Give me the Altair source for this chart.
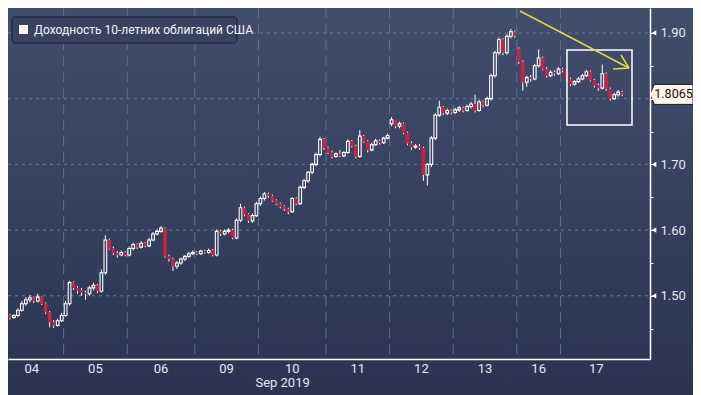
import altair as alt
import pandas as pd

# ---------------- data ----------------
days = ["04", "05", "06", "09", "10", "11", "12", "13", "16", "17"]
day_slots = [16, 16, 17, 16, 17, 16, 16, 16, 11, 18]   # bar slots per trading day
first_open = 1.462
day_opens = {"12": 1.762, "16": 1.876}                  # opening gaps

c04 = [1.478, 1.470, 1.467, 1.470, 1.478, 1.488, 1.494, 1.497, 1.492, 1.498,
       1.488, 1.475, 1.460, 1.455, 1.462, 1.470]
h04 = [1.481, 1.480, 1.472, 1.472, 1.481, 1.492, 1.498, 1.501, 1.499, 1.503,
       1.499, 1.490, 1.477, 1.463, 1.465, 1.474]
l04 = [1.455, 1.468, 1.464, 1.465, 1.468, 1.476, 1.485, 1.490, 1.489, 1.490,
       1.486, 1.472, 1.452, 1.451, 1.453, 1.460]

c05 = [1.488, 1.520, 1.512, 1.508, 1.505, 1.503, 1.512, 1.516, 1.507, 1.535,
       1.585, 1.572, 1.565, 1.562, 1.566, 1.562]
h05 = [1.492, 1.523, 1.522, 1.515, 1.512, 1.508, 1.515, 1.520, 1.518, 1.540,
       1.592, 1.587, 1.575, 1.568, 1.569, 1.568]
l05 = [1.468, 1.485, 1.509, 1.503, 1.500, 1.494, 1.500, 1.508, 1.504, 1.505,
       1.532, 1.570, 1.562, 1.558, 1.560, 1.560]

c06 = [1.572, 1.578, 1.574, 1.580, 1.576, 1.585, 1.594, 1.598, 1.603, 1.560,
       1.556, 1.545, 1.550, 1.556, 1.560, 1.564, 1.566]
h06 = [1.575, 1.581, 1.580, 1.583, 1.582, 1.588, 1.597, 1.601, 1.606, 1.604,
       1.563, 1.558, 1.553, 1.558, 1.562, 1.567, 1.569]
l06 = [1.560, 1.569, 1.571, 1.572, 1.574, 1.574, 1.583, 1.592, 1.596, 1.558,
       1.552, 1.538, 1.541, 1.547, 1.553, 1.558, 1.562]

c09 = [1.564, 1.568, 1.566, 1.569, 1.562, 1.598, 1.594, 1.598, 1.600, 1.588,
       1.615, 1.634, 1.624, 1.614, 1.622, 1.640]
h09 = [1.568, 1.570, 1.570, 1.572, 1.571, 1.601, 1.600, 1.601, 1.603, 1.602,
       1.618, 1.640, 1.636, 1.626, 1.625, 1.643]
l09 = [1.562, 1.562, 1.564, 1.564, 1.560, 1.560, 1.591, 1.592, 1.595, 1.586,
       1.586, 1.612, 1.621, 1.611, 1.611, 1.620]

c10 = [1.648, 1.655, 1.652, 1.645, 1.640, 1.636, 1.632, 1.628, 1.648, 1.640,
       1.665, 1.675, 1.688, 1.700, 1.715, 1.738, 1.725]
h10 = [1.651, 1.658, 1.657, 1.654, 1.647, 1.642, 1.638, 1.634, 1.650, 1.650,
       1.668, 1.678, 1.690, 1.703, 1.718, 1.742, 1.740]
l10 = [1.637, 1.645, 1.649, 1.643, 1.638, 1.633, 1.629, 1.624, 1.626, 1.638,
       1.638, 1.662, 1.672, 1.685, 1.697, 1.712, 1.722]

c11 = [1.718, 1.712, 1.716, 1.713, 1.718, 1.735, 1.728, 1.712, 1.743, 1.735,
       1.722, 1.730, 1.736, 1.733, 1.740, 1.744]
h11 = [1.727, 1.721, 1.718, 1.722, 1.720, 1.738, 1.737, 1.730, 1.752, 1.745,
       1.737, 1.733, 1.739, 1.738, 1.742, 1.747]
l11 = [1.716, 1.709, 1.710, 1.711, 1.711, 1.716, 1.726, 1.709, 1.710, 1.733,
       1.718, 1.720, 1.728, 1.730, 1.731, 1.738]

c12 = [1.768, 1.758, 1.762, 1.748, 1.732, 1.726, 1.728, 1.725, 1.684, 1.700,
       1.740, 1.775, 1.787, 1.778, 1.782, 1.779]
h12 = [1.772, 1.768, 1.765, 1.764, 1.750, 1.735, 1.731, 1.731, 1.727, 1.702,
       1.743, 1.778, 1.797, 1.789, 1.785, 1.784]
l12 = [1.758, 1.755, 1.755, 1.746, 1.729, 1.722, 1.724, 1.722, 1.675, 1.668,
       1.696, 1.737, 1.772, 1.775, 1.775, 1.776]

c13 = [1.783, 1.786, 1.782, 1.788, 1.792, 1.782, 1.795, 1.790, 1.800, 1.835,
       1.870, 1.890, 1.870, 1.895, 1.902, 1.896]
h13 = [1.786, 1.789, 1.788, 1.791, 1.795, 1.806, 1.798, 1.797, 1.803, 1.838,
       1.873, 1.893, 1.892, 1.898, 1.906, 1.904]
l13 = [1.777, 1.780, 1.779, 1.780, 1.785, 1.779, 1.780, 1.787, 1.788, 1.797,
       1.832, 1.866, 1.866, 1.867, 1.892, 1.893]

c16 = [1.856, 1.825, 1.832, 1.830, 1.850, 1.862, 1.845, 1.835, 1.840, 1.838,
       1.845]
h16 = [1.878, 1.858, 1.835, 1.836, 1.853, 1.875, 1.864, 1.848, 1.843, 1.843,
       1.848]
l16 = [1.853, 1.812, 1.818, 1.826, 1.828, 1.847, 1.843, 1.832, 1.833, 1.835,
       1.836]

c17 = [1.843, 1.830, 1.822, 1.826, 1.830, 1.835, 1.841, 1.828, 1.820, 1.816,
       1.838, 1.815, 1.800, 1.806, 1.810, 1.8065]
h17 = [1.847, 1.845, 1.832, 1.828, 1.833, 1.838, 1.844, 1.843, 1.830, 1.823,
       1.852, 1.840, 1.817, 1.809, 1.813, 1.812]
l17 = [1.840, 1.827, 1.819, 1.820, 1.824, 1.828, 1.833, 1.826, 1.817, 1.812,
       1.814, 1.812, 1.797, 1.798, 1.803, 1.804]

closes_by_day = [c04, c05, c06, c09, c10, c11, c12, c13, c16, c17]
highs_by_day = [h04, h05, h06, h09, h10, h11, h12, h13, h16, h17]
lows_by_day = [l04, l05, l06, l09, l10, l11, l12, l13, l16, l17]

y_major = [1.5, 1.6, 1.7, 1.8, 1.9]
y_ticks = [1.45, 1.5, 1.55, 1.6, 1.65, 1.7, 1.75, 1.8, 1.85, 1.9]
last_value = 1.8065
legend_text = "Доходность 10-летних облигаций США"
month_text = "Sep 2019"

# ---------------- tables ----------------
rows, wicks, bounds, centers = [], [], [], []
prev = first_open
start = 0
for k, d in enumerate(days):
    slots = day_slots[k]
    if k > 0:
        bounds.append({"u": start})
    centers.append({"u": start + slots / 2, "label": d})
    if d in day_opens:
        prev = day_opens[d]
    for j, c in enumerate(closes_by_day[k]):
        i = start + j
        o = prev
        up = c >= o
        hi = max(highs_by_day[k][j], o, c)
        lo = min(lows_by_day[k][j], o, c)
        rows.append({"u": i + 0.5, "open": o, "close": c, "up": up,
                     "xl": i + 0.5 - (0.34 if up else 0.45),
                     "xr": i + 0.5 + (0.34 if up else 0.45)})
        if hi > max(o, c):
            wicks.append({"u": i + 0.5, "a": max(o, c), "b": hi})
        if lo < min(o, c):
            wicks.append({"u": i + 0.5, "a": lo, "b": min(o, c)})
        prev = c
    start += slots

bars = pd.DataFrame(rows)
wick_df = pd.DataFrame(wicks)
bound_df = pd.DataFrame(bounds)
center_df = pd.DataFrame(centers)
grid_df = pd.DataFrame({"v": y_major})
last_df = pd.DataFrame({"v": [last_value], "t": [f"{last_value:.4f}"]})
month_df = pd.DataFrame({"u": [bounds[3]["u"]], "t": [month_text]})
one = pd.DataFrame({"k": [0]})

W, H = 642, 351
FONT = "Roboto"
LABEL = "#e4e8ef"
xs = alt.Scale(domain=[2.01, 163.5], nice=False, zero=False)
ys = alt.Scale(domain=[1.4038, 1.938], nice=False, zero=False)

label_expr = ("abs(datum.value*10 - round(datum.value*10)) < 0.001 && "
              "abs(datum.value - 1.8) > 0.001 ? format(datum.value, '.2f') : ''")
y_axis = alt.Axis(orient="right", values=y_ticks, labelExpr=label_expr, tickSize=3,
                  tickColor="white", domainColor="white", domainWidth=1.5,
                  labelColor=LABEL, labelFontSize=13, labelFont=FONT, labelPadding=7,
                  grid=False, title=None, zindex=1)
x_axis = alt.Axis(labels=False, ticks=False, domainColor="white", domainWidth=1.5,
                  grid=False, title=None, zindex=1)

def X(f):
    return alt.X(f, scale=xs, axis=x_axis)

def Y(f):
    return alt.Y(f, scale=ys, axis=y_axis)

bg = alt.Chart(one).mark_rect(
    fill=alt.Gradient(gradient="linear",
                      stops=[alt.GradientStop(color="#414e6b", offset=0),
                             alt.GradientStop(color="#2a3451", offset=1)],
                      x1=0, x2=0, y1=0, y2=1)
).encode(x=alt.value(0), x2=alt.value(W + 43), y=alt.value(0), y2=alt.value(H + 36))

hgrid = alt.Chart(grid_df).mark_rule(color="#667a99", strokeDash=[3, 4], strokeWidth=1).encode(
    y=Y("v:Q"), x=alt.value(0), x2=alt.value(W)
)
vgrid = alt.Chart(bound_df).mark_rule(color="#5b7191", strokeDash=[10, 6], strokeWidth=1).encode(
    x=X("u:Q"), y=alt.value(0), y2=alt.value(H)
)

wick_layer = alt.Chart(wick_df).mark_rule(color="white", strokeWidth=1, clip=True).encode(
    x=X("u:Q"), y=Y("a:Q"), y2="b:Q"
)
up_layer = alt.Chart(bars).transform_filter("datum.up").mark_bar(
    fill="#36425e", fillOpacity=0, stroke="white", strokeWidth=1.1, clip=True
).encode(x=X("xl:Q"), x2="xr:Q", y=Y("open:Q"), y2="close:Q")
down_layer = alt.Chart(bars).transform_filter("!datum.up").mark_bar(
    fill="#c8224b", clip=True
).encode(x=X("xl:Q"), x2="xr:Q", y=Y("open:Q"), y2="close:Q")

box = alt.Chart(one).mark_rect(fill="white", fillOpacity=0, stroke="white", strokeWidth=1.5).encode(
    x=alt.value(559), x2=alt.value(624), y=alt.value(42), y2=alt.value(117)
)
ARROW = "#dcdc3e"
arrow1 = alt.Chart(one).mark_rule(color=ARROW, strokeWidth=1.5).encode(
    x=alt.value(512), x2=alt.value(621), y=alt.value(3), y2=alt.value(60))
arrow2 = alt.Chart(one).mark_rule(color=ARROW, strokeWidth=1.5).encode(
    x=alt.value(613), x2=alt.value(621), y=alt.value(47), y2=alt.value(60))
arrow3 = alt.Chart(one).mark_rule(color=ARROW, strokeWidth=1.5).encode(
    x=alt.value(605), x2=alt.value(621), y=alt.value(61), y2=alt.value(60))

leg_box = alt.Chart(one).mark_rect(fill="#37435f", stroke="#161c2b", strokeWidth=1,
                                   cornerRadius=3).encode(
    x=alt.value(4), x2=alt.value(229), y=alt.value(9), y2=alt.value(35))
leg_sq = alt.Chart(one).mark_rect(fill="#fff4f4").encode(
    x=alt.value(11), x2=alt.value(20), y=alt.value(17), y2=alt.value(26))
leg_txt = alt.Chart(one).mark_text(text=legend_text, align="left", baseline="middle",
                                   font=FONT, fontSize=12, color="#f4f4f6").encode(
    x=alt.value(26), y=alt.value(22))

day_labels = alt.Chart(center_df).mark_text(baseline="middle", font=FONT, fontSize=13,
                                           color=LABEL).encode(
    x=X("u:Q"), y=alt.value(H + 10), text="label:N")
month = alt.Chart(month_df).mark_text(align="left", baseline="middle", font=FONT, fontSize=13,
                                      color=LABEL, dx=-3).encode(
    x=X("u:Q"), y=alt.value(H + 24), text="t:N")

tri = alt.Chart(grid_df).mark_point(shape="triangle-left", filled=True, color="white",
                                    size=28, opacity=1).encode(
    x=alt.value(W + 4), y=Y("v:Q"))

last_sym = alt.Chart(last_df).mark_point(
    shape="M-1,0L-0.8,-0.465L1,-0.465L1,0.465L-0.8,0.465Z",
    filled=True, fill="#fdf6e8", stroke="#1a1a1a", strokeWidth=1, size=1849, opacity=1
).encode(x=alt.value(W + 21.5), y=Y("v:Q"))
last_txt = alt.Chart(last_df).mark_text(font=FONT, fontSize=12.5, color="#111111",
                                        baseline="middle").encode(
    x=alt.value(W + 23.5), y=Y("v:Q"), text="t:N")

chart = alt.layer(
    bg, hgrid, vgrid, wick_layer, up_layer, down_layer, box,
    arrow1, arrow2, arrow3, leg_box, leg_sq, leg_txt, day_labels, month,
    tri, last_sym, last_txt
).properties(
    width=W, height=H,
    autosize=alt.AutoSizeParams(type="none"),
    padding={"left": 0, "top": 0, "right": 43, "bottom": 36},
    background="#2b3553"
).configure_view(stroke=None)

chart.save("out.html", embed_options={"renderer": "svg", "actions": False})
